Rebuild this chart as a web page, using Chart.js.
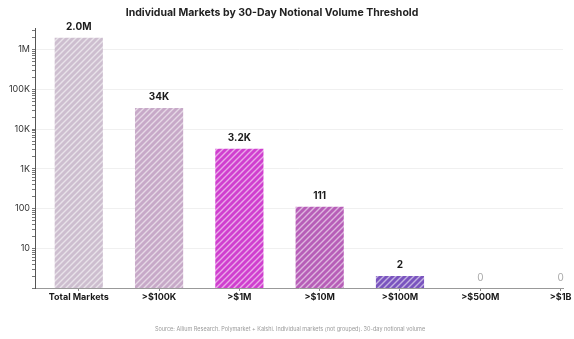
<!DOCTYPE html>
<html>
<head>
<meta charset="utf-8">
<script src="https://cdn.jsdelivr.net/npm/chart.js@4.4.1/dist/chart.umd.min.js"></script>
<style>
  html, body { margin: 0; padding: 0; background: #fff; overflow: hidden; }
  #wrap { width: 574px; height: 339px; }
</style>
</head>
<body>
<div id="wrap"><canvas id="chart" width="574" height="339"></canvas></div>
<script>
// data
const categories = ["Total Markets", ">$100K", ">$1M", ">$10M", ">$100M", ">$500M", ">$1B"];
const marketCounts = [2000000, 34000, 3200, 111, 2, 0, 0];
const valueLabels = ["2.0M", "34K", "3.2K", "111", "2", "0", "0"];
const barColors = ["#cdbecf", "#c7a9c8", "#d03fcf", "#b75eb8", "#7a54bf", "#7a54bf", "#7a54bf"];

const chartTitle = "Individual Markets by 30-Day Notional Volume Threshold";
const sourceNote = "Source: Allium Research. Polymarket + Kalshi. Individual markets (not grouped). 30-day notional volume";

const FONT = "Inter, 'DejaVu Sans', sans-serif";

// hatch fill: color + white diagonal stripes
function hatch(color) {
  const s = 6;
  const c = document.createElement("canvas");
  c.width = s; c.height = s;
  const g = c.getContext("2d");
  g.fillStyle = color;
  g.fillRect(0, 0, s, s);
  g.strokeStyle = "rgba(255,255,255,0.55)";
  g.lineWidth = 1.4;
  g.beginPath();
  g.moveTo(0, s); g.lineTo(s, 0);
  g.moveTo(-1, 1); g.lineTo(1, -1);
  g.moveTo(s - 1, s + 1); g.lineTo(s + 1, s - 1);
  g.stroke();
  return g.createPattern(c, "repeat");
}

function fmtTick(v) {
  if (v >= 1e6) return (v / 1e6) + "M";
  if (v >= 1e3) return (v / 1e3) + "K";
  return String(v);
}

function isPow10(v) {
  const l = Math.log10(v);
  return Math.abs(l - Math.round(l)) < 1e-9;
}

// value labels above bars + title + source
const labelPlugin = {
  id: "valueLabels",
  afterDatasetsDraw(chart) {
    const ctx = chart.ctx;
    const x = chart.scales.x;
    const y = chart.scales.y;
    ctx.save();
    ctx.textAlign = "center";
    ctx.textBaseline = "bottom";
    marketCounts.forEach((v, i) => {
      const px = x.getPixelForValue(i);
      if (v > 0) {
        ctx.font = "bold 10px " + FONT;
        ctx.fillStyle = "#1a1a1a";
        ctx.fillText(valueLabels[i], px, y.getPixelForValue(v) - 6);
      } else {
        ctx.font = "10px " + FONT;
        ctx.fillStyle = "#aaaaaa";
        ctx.fillText(valueLabels[i], px, y.bottom - 5);
      }
    });

    ctx.font = "bold 10.5px " + FONT;
    ctx.fillStyle = "#222";
    ctx.textBaseline = "middle";
    ctx.fillText(chartTitle, 272, 13);

    ctx.font = "5.5px " + FONT;
    ctx.fillStyle = "#9a9a9a";
    ctx.fillText(sourceNote, 290, 329);
    ctx.restore();
  }
};

new Chart(document.getElementById("chart"), {
  type: "bar",
  data: {
    datasets: [{
      data: marketCounts.map((v, i) => ({ x: i, y: v })),
      backgroundColor: barColors.map(hatch),
      borderWidth: 0,
      barPercentage: 0.6,
      categoryPercentage: 1.0
    }]
  },
  options: {
    responsive: false,
    animation: false,
    events: [],
    layout: { padding: { top: 28, right: 11, bottom: 31, left: 0 } },
    plugins: {
      legend: { display: false },
      title: { display: false },
      tooltip: { enabled: false }
    },
    scales: {
      x: {
        type: "linear",
        offset: false,
        min: -0.545,
        max: 6.03,
        afterBuildTicks(scale) {
          scale.ticks = categories.map((_, i) => ({ value: i }));
        },
        afterFit(scale) { scale.height = 20; },
        ticks: {
          autoSkip: false,
          maxRotation: 0,
          padding: 1,
          color: "#1a1a1a",
          font: { family: FONT, size: 9, weight: "bold" },
          callback: (v) => categories[v] || ""
        },
        grid: { offset: false, drawOnChartArea: false, tickLength: 3, color: "#888" },
        border: { color: "#999" }
      },
      y: {
        type: "logarithmic",
        min: 1,
        max: 3500000,
        afterBuildTicks(scale) {
          const t = [];
          for (let p = 1; p <= 1e6; p *= 10) {
            for (let k = 1; k <= 9; k++) {
              if (k * p <= scale.max) t.push({ value: k * p, major: k === 1 });
            }
          }
          scale.ticks = t;
        },
        afterFit(scale) { scale.width = 35; },
        ticks: {
          autoSkip: false,
          padding: 2,
          color: "#333",
          font: { family: FONT, size: 9 },
          callback: (v) => (isPow10(v) && v >= 10 ? fmtTick(v) : "")
        },
        grid: {
          tickLength: 3,
          tickColor: "#777",
          color: (c) => (c.tick && isPow10(c.tick.value) && c.tick.value >= 10 ? "#f0f0f0" : "rgba(0,0,0,0)")
        },
        border: { color: "#555" }
      }
    }
  },
  plugins: [labelPlugin]
});
</script>
</body>
</html>
